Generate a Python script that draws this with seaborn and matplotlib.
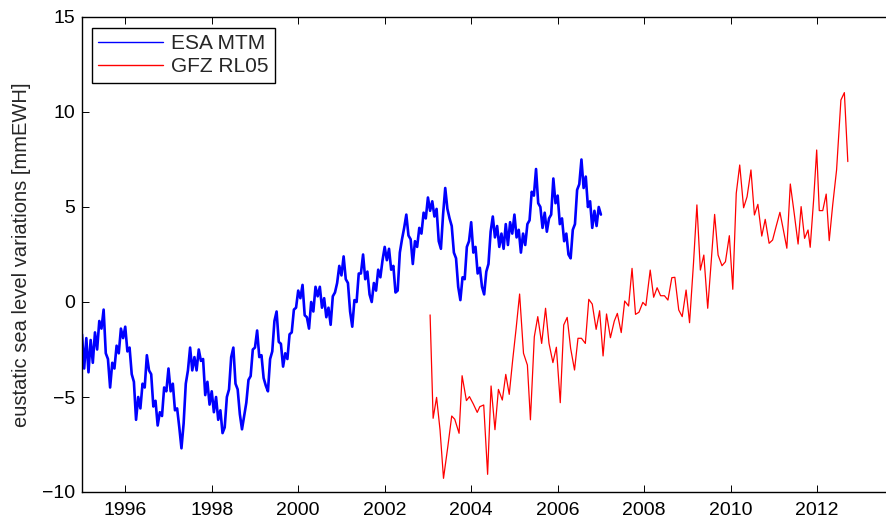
import numpy as np
import pandas as pd
import matplotlib
matplotlib.use("Agg")
import matplotlib.pyplot as plt
import seaborn as sns

# ESA MTM eustatic sea level, sampled every 0.05 yr from 1995.0
esa_start = 1995.0
esa_step = 0.05
esa_values = [
    # 1995
    -1.7, -3.5, -1.9, -3.7, -2.0, -3.2, -1.6, -2.5, -1.0, -1.4,
    -0.4, -2.7, -3.0, -4.5, -3.2, -3.5, -2.3, -2.7, -1.4, -1.9,
    # 1996
    -1.3, -2.6, -2.4, -3.8, -4.2, -6.2, -5.0, -5.6, -4.3, -4.5,
    -2.8, -3.6, -3.8, -5.5, -5.2, -6.5, -5.8, -6.0, -4.5, -4.7,
    # 1997
    -3.5, -4.7, -4.3, -5.7, -5.6, -6.6, -7.7, -6.4, -4.3, -3.6,
    -2.4, -3.6, -2.9, -3.6, -2.5, -3.1, -3.0, -4.9, -4.2, -5.4,
    # 1998
    -4.7, -5.8, -5.0, -6.2, -5.7, -6.9, -6.6, -5.0, -4.6, -2.9,
    -2.4, -4.3, -4.6, -5.9, -6.7, -6.0, -5.3, -4.1, -3.9, -2.5,
    # 1999
    -2.4, -1.5, -2.9, -2.8, -4.0, -4.4, -4.7, -3.0, -2.6, -1.0,
    -0.5, -2.1, -2.2, -3.4, -2.7, -3.0, -1.7, -1.6, -0.4, -0.3,
    # 2000
    0.6, 0.2, 0.9, -0.7, -0.8, -1.4, 0.0, -0.5, 0.8, 0.3,
    0.8, -0.3, 0.2, -0.8, -0.3, -1.2, 0.3, 0.5, 1.0, 1.9,
    # 2001
    1.4, 2.4, 1.2, 1.0, -0.5, -1.3, 0.1, 0.0, 1.5, 1.5,
    2.5, 1.2, 1.6, 0.4, 0.0, 1.0, 0.6, 1.7, 1.3, 2.2,
    # 2002
    2.9, 2.2, 2.8, 1.7, 1.9, 0.5, 0.6, 2.6, 3.3, 3.9,
    4.6, 3.5, 3.3, 2.0, 3.2, 2.9, 3.9, 3.6, 4.7, 4.4,
    # 2003
    5.5, 4.8, 5.3, 4.5, 4.9, 3.2, 2.8, 4.6, 6.0, 4.9,
    4.4, 4.0, 2.6, 2.3, 0.8, 0.1, 1.3, 1.2, 2.9, 3.2,
    # 2004
    4.2, 2.6, 2.9, 1.5, 1.8, 0.8, 0.4, 1.6, 2.0, 3.7,
    4.5, 3.4, 4.0, 2.9, 3.6, 2.8, 4.1, 3.0, 4.2, 3.6,
    # 2005
    4.6, 3.4, 3.8, 2.6, 3.6, 3.0, 4.1, 4.3, 5.8, 5.6,
    7.0, 5.2, 5.0, 3.9, 4.7, 3.7, 4.4, 4.6, 6.5, 5.2,
    # 2006
    5.6, 4.1, 4.4, 3.2, 3.6, 2.5, 2.3, 3.8, 4.1, 5.9,
    6.2, 7.5, 6.0, 6.6, 5.0, 5.3, 3.9, 4.8, 4.0, 5.0,
    # 2007
    4.6,
]

# GFZ RL05 monthly solutions
gfz_years = [
    2003.05, 2003.12, 2003.20, 2003.28, 2003.36, 2003.46, 2003.55, 2003.62,
    2003.72, 2003.79, 2003.89, 2003.96, 2004.05, 2004.14, 2004.20, 2004.29,
    2004.38, 2004.46, 2004.55, 2004.63, 2004.72, 2004.80, 2004.88, 2004.96,
    2005.04, 2005.12, 2005.21, 2005.30, 2005.37,
    2005.46, 2005.54, 2005.63, 2005.72, 2005.80, 2005.89, 2005.97, 2006.06,
    2006.14, 2006.22, 2006.30, 2006.39, 2006.47, 2006.55, 2006.64, 2006.72,
    2006.80, 2006.89, 2006.97, 2007.05, 2007.13, 2007.22, 2007.31, 2007.38,
    2007.47, 2007.55, 2007.64, 2007.72,
    2007.80, 2007.88, 2007.97, 2008.04, 2008.14, 2008.22, 2008.30, 2008.38,
    2008.47, 2008.55, 2008.64, 2008.71, 2008.80, 2008.88, 2008.97, 2009.05,
    2009.14, 2009.22, 2009.30, 2009.38, 2009.47, 2009.55, 2009.63, 2009.71,
    2009.80, 2009.88, 2009.97, 2010.05, 2010.13,
    2010.21, 2010.30, 2010.38, 2010.47, 2010.55, 2010.63, 2010.72, 2010.80,
    2010.89, 2010.97, 2011.05, 2011.14, 2011.22, 2011.30, 2011.38, 2011.47,
    2011.56,
    2011.63, 2011.71, 2011.79, 2011.84, 2011.92, 2011.99, 2012.05, 2012.13,
    2012.21, 2012.28, 2012.36, 2012.45, 2012.55, 2012.63, 2012.71,
]
gfz_values = [
    -0.68, -6.12, -5.02, -6.74, -9.28, -7.61, -6.00, -6.17,
    -6.91, -3.88, -5.19, -4.98, -5.37, -5.81, -5.51, -5.42,
    -9.07, -4.42, -6.72, -4.60, -5.16, -3.81, -4.86, -3.05,
    -1.38, 0.42, -2.70, -3.32, -6.20,
    -1.83, -0.77, -2.18, -0.33, -2.18, -3.19, -2.38, -5.30,
    -1.21, -0.81, -2.44, -3.58, -1.91, -1.91, -2.18, 0.14,
    -0.11, -1.44, -0.46, -2.84, -0.63, -1.88, -1.00, -0.60,
    -1.61, 0.05, -0.21, 1.77,
    -0.65, -0.54, -0.02, -0.19, 1.68, 0.25, 0.75, 0.33,
    0.33, 0.10, 1.28, 1.30, -0.42, -0.77, 0.63, -1.09,
    2.00, 5.11, 1.68, 2.47, -0.33, 2.10, 4.61, 2.47,
    1.91, 2.12, 3.49, 0.67, 5.72,
    7.21, 4.96, 5.54, 6.95, 4.58, 5.14, 3.47, 4.35,
    3.09, 3.26, 3.96, 4.72, 3.79, 2.83, 6.21, 4.67,
    3.05,
    5.02, 3.35, 3.79, 2.88, 5.40, 8.00, 4.81, 4.81,
    5.68, 3.23, 5.10, 6.95, 10.63, 11.02, 7.39,
]

x_ticks = [1996, 1998, 2000, 2002, 2004, 2006, 2008, 2010, 2012]
y_ticks = [-10, -5, 0, 5, 10, 15]
y_label = "eustatic sea level variations [mmEWH]"

esa_years = esa_start + esa_step * np.arange(len(esa_values))
esa = pd.DataFrame({"year": esa_years, "value": esa_values})
gfz = pd.DataFrame({"year": gfz_years, "value": gfz_values})

sns.set_theme(style="ticks")
plt.rcParams["font.family"] = ["Liberation Sans", "DejaVu Sans"]
plt.rcParams["axes.unicode_minus"] = True

fig = plt.figure(figsize=(8.86, 5.22), dpi=100)
# right spine sits just past the figure edge
ax = fig.add_axes([82 / 886, 30 / 522, (903.6 - 82) / 886, 475 / 522])

sns.lineplot(data=esa, x="year", y="value", ax=ax, color=(0, 0, 1),
             linewidth=1.9, label="ESA MTM", estimator=None, sort=False)
sns.lineplot(data=gfz, x="year", y="value", ax=ax, color=(1, 0, 0),
             linewidth=0.9, label="GFZ RL05", estimator=None, sort=False)

ax.set_xlim(1995, 2014)
ax.set_ylim(-10, 15)
ax.set_xticks(x_ticks)
ax.set_yticks(y_ticks)
ax.set_xlabel("")
ax.set_ylabel(y_label, fontsize=14.5, labelpad=8)

for side in ["left", "bottom", "top", "right"]:
    ax.spines[side].set_visible(True)
    ax.spines[side].set_color("black")
    ax.spines[side].set_linewidth(1.0)
ax.tick_params(axis="both", direction="in", length=5, width=0.7,
               colors="black", labelsize=14, top=True, right=True)
ax.tick_params(axis="x", pad=7)
ax.tick_params(axis="y", pad=5)

leg = ax.legend(loc="upper left", bbox_to_anchor=(92 / 886, 1 - 28 / 522),
                bbox_transform=fig.transFigure, borderaxespad=0,
                fontsize=15, frameon=True, fancybox=False, framealpha=1,
                edgecolor="black", handlelength=3.1, handletextpad=0.4,
                labelspacing=0.2, borderpad=0.3)
leg.get_frame().set_linewidth(1.0)
for line in leg.get_lines():
    line.set_linewidth(1.0)

fig.savefig("out.png", dpi=100)
